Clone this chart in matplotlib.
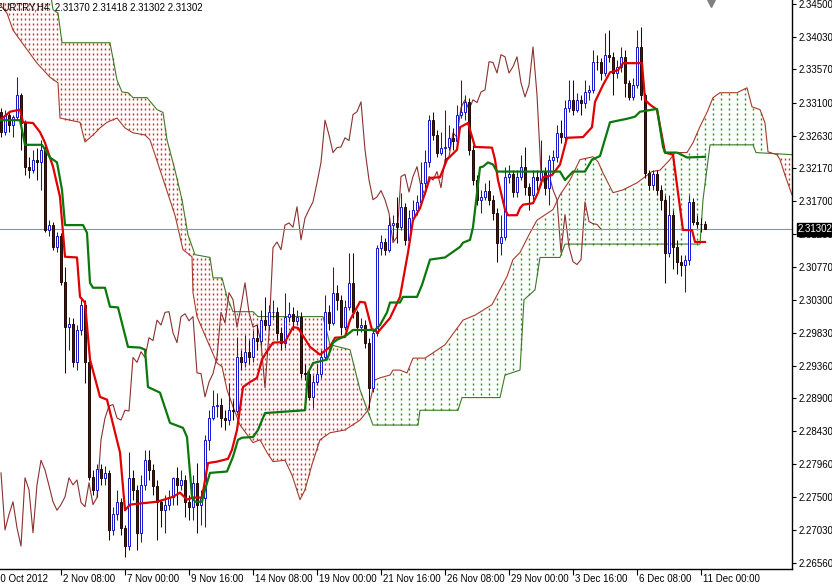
import numpy as np
import matplotlib

matplotlib.use("Agg")
import matplotlib.pyplot as plt

plt.rcParams["font.family"] = ["Liberation Sans", "DejaVu Sans"]

HEADER = "EURTRY,H4  2.31370 2.31418 2.31302 2.31302"
LAST_PRICE = 2.31302
FIRST_OPEN = 2.3296

# H4 candles, bar 0 = 30 Oct 2012 20:00
closes = [
    2.3268, 2.3293, 2.3278, 2.3289, 2.3321, 2.3281, 2.3218, 2.3214, 2.3229, 2.3225,
    2.3243, 2.3129, 2.3136, 2.3105, 2.3120, 2.3055, 2.2991, 2.2996, 2.2942, 2.2987,
    2.3023, 2.2942, 2.2778, 2.2760, 2.2789, 2.2777, 2.2784, 2.2703, 2.2725, 2.2743,
    2.2706, 2.2680, 2.2777, 2.2760, 2.2699, 2.2767, 2.2802, 2.2788, 2.2766, 2.2743,
    2.2731, 2.2739, 2.2750, 2.2777, 2.2767, 2.2774, 2.2742, 2.2736, 2.2770, 2.2739,
    2.2749, 2.2831, 2.2862, 2.2879, 2.2881, 2.2862, 2.2859, 2.2873, 2.2872, 2.2948,
    2.2941, 2.2956, 2.2948, 2.2976, 2.2972, 2.3001, 2.2994, 2.3012, 2.3013, 2.2983,
    2.2969, 2.3006, 2.3010, 2.3000, 2.3006, 2.2926, 2.2925, 2.2892, 2.2913, 2.2925,
    2.2949, 2.3012, 2.2997, 2.3040, 2.3030, 2.2991, 2.3020, 2.3054, 2.3012, 2.2991,
    2.2994, 2.2969, 2.2905, 2.2983, 2.3104, 2.3112, 2.3101, 2.3136, 2.3139, 2.3133,
    2.3162, 2.3115, 2.3146, 2.3158, 2.3169, 2.3196, 2.3225, 2.3285, 2.3264, 2.3239,
    2.3246, 2.3247, 2.3260, 2.3256, 2.3293, 2.3297, 2.3311, 2.3243, 2.3200, 2.3172,
    2.3176, 2.3185, 2.3172, 2.3153, 2.3111, 2.3119, 2.3205, 2.3208, 2.3183, 2.3205,
    2.3219, 2.3190, 2.3179, 2.3205, 2.3200, 2.3212, 2.3189, 2.3229, 2.3233, 2.3267,
    2.3261, 2.3303, 2.3314, 2.3300, 2.3314, 2.3310, 2.3325, 2.3328, 2.3368, 2.3367,
    2.3352, 2.3378, 2.3375, 2.3352, 2.3361, 2.3375, 2.3338, 2.3318, 2.3335, 2.3389,
    2.3321, 2.3210, 2.3193, 2.3208, 2.3186, 2.3172, 2.3097, 2.3151, 2.3105, 2.3084,
    2.3080, 2.3087, 2.3169, 2.3141, 2.3138, 2.3137, 2.31302,
]
highs = [
    2.3303, 2.3300, 2.3297, 2.3293, 2.3346, 2.3324, 2.3285, 2.3232, 2.3243, 2.3246,
    2.3257, 2.3249, 2.3143, 2.3140, 2.3126, 2.3125, 2.3077, 2.3006, 2.3004, 2.2994,
    2.3033, 2.3030, 2.2952, 2.2788, 2.2796, 2.2796, 2.2794, 2.2788, 2.2735, 2.2760,
    2.2749, 2.2710, 2.2813, 2.2788, 2.2767, 2.2781, 2.2817, 2.2817, 2.2796, 2.2774,
    2.2746, 2.2753, 2.2760, 2.2778, 2.2793, 2.2788, 2.2781, 2.2753, 2.2781, 2.2798,
    2.2760, 2.2838, 2.2873, 2.2902, 2.2898, 2.2891, 2.2873, 2.2912, 2.2888, 2.2977,
    2.2959, 2.2980, 2.2973, 2.2987, 2.2994, 2.3016, 2.3034, 2.3023, 2.3030, 2.3020,
    2.2991, 2.3040, 2.3027, 2.3019, 2.3016, 2.3013, 2.2938, 2.2930, 2.2923, 2.2938,
    2.2959, 2.3037, 2.3023, 2.3077, 2.3051, 2.3037, 2.3030, 2.3097, 2.3097, 2.3016,
    2.3004, 2.3001, 2.2976, 2.2990, 2.3108, 2.3122, 2.3118, 2.3148, 2.3150, 2.3176,
    2.3182, 2.3168, 2.3158, 2.3172, 2.3179, 2.3225, 2.3243, 2.3293, 2.3297, 2.3271,
    2.3268, 2.3300, 2.3278, 2.3274, 2.3307, 2.3342, 2.3321, 2.3317, 2.3250, 2.3207,
    2.3186, 2.3196, 2.3200, 2.3179, 2.3160, 2.3150, 2.3218, 2.3222, 2.3214, 2.3214,
    2.3236, 2.3247, 2.3196, 2.3214, 2.3214, 2.3257, 2.3218, 2.3236, 2.3243, 2.3278,
    2.3285, 2.3314, 2.3342, 2.3342, 2.3324, 2.3321, 2.3342, 2.3335, 2.3385, 2.3378,
    2.3374, 2.3409, 2.3413, 2.3382, 2.3371, 2.3389, 2.3385, 2.3342, 2.3345, 2.3413,
    2.3417, 2.3324, 2.3214, 2.3214, 2.3214, 2.3193, 2.3179, 2.3179, 2.3158, 2.3115,
    2.3094, 2.3094, 2.3179, 2.3175, 2.3150, 2.3146, 2.31418,
]
lows = [
    2.3261, 2.3264, 2.3268, 2.3261, 2.3285, 2.3243, 2.3207, 2.3203, 2.3210, 2.3200,
    2.3186, 2.3126, 2.3121, 2.3101, 2.3098, 2.3051, 2.2926, 2.2959, 2.2935, 2.2930,
    2.2980, 2.2912, 2.2774, 2.2753, 2.2750, 2.2767, 2.2767, 2.2689, 2.2696, 2.2717,
    2.2696, 2.2665, 2.2675, 2.2746, 2.2675, 2.2686, 2.2760, 2.2774, 2.2753, 2.2689,
    2.2707, 2.2699, 2.2731, 2.2739, 2.2739, 2.2760, 2.2722, 2.2717, 2.2717, 2.2699,
    2.2710, 2.2707, 2.2817, 2.2859, 2.2864, 2.2849, 2.2845, 2.2852, 2.2859, 2.2869,
    2.2930, 2.2934, 2.2938, 2.2942, 2.2959, 2.2966, 2.2987, 2.2987, 2.3004, 2.2973,
    2.2959, 2.2962, 2.2999, 2.2987, 2.2994, 2.2919, 2.2916, 2.2888, 2.2876, 2.2909,
    2.2919, 2.2945, 2.2987, 2.2994, 2.3016, 2.2980, 2.2987, 2.3016, 2.3004, 2.2980,
    2.2984, 2.2962, 2.2876, 2.2899, 2.2979, 2.3094, 2.3094, 2.3098, 2.3115, 2.3111,
    2.3129, 2.3108, 2.3111, 2.3143, 2.3150, 2.3165, 2.3189, 2.3218, 2.3257, 2.3232,
    2.3236, 2.3222, 2.3243, 2.3243, 2.3250, 2.3288, 2.3285, 2.3236, 2.3193, 2.3165,
    2.3153, 2.3172, 2.3165, 2.3143, 2.3083, 2.3094, 2.3115, 2.3196, 2.3176, 2.3176,
    2.3200, 2.3179, 2.3158, 2.3172, 2.3186, 2.3193, 2.3179, 2.3165, 2.3214, 2.3226,
    2.3253, 2.3257, 2.3297, 2.3293, 2.3297, 2.3293, 2.3303, 2.3314, 2.3324, 2.3356,
    2.3342, 2.3348, 2.3368, 2.3321, 2.3345, 2.3354, 2.3318, 2.3314, 2.3314, 2.3331,
    2.3314, 2.3203, 2.3186, 2.3186, 2.3179, 2.3158, 2.3054, 2.3090, 2.3073, 2.3066,
    2.3063, 2.3041, 2.3080, 2.3136, 2.3132, 2.3126, 2.31302,
]

# indicator lines as (bar, price) vertices
tenkan = [
    (-0.25, 2.3285), (2.25, 2.3297), (4.75, 2.3300), (5.5, 2.3282), (8.0, 2.3281),
    (9.75, 2.3268), (11.0, 2.3253), (13.0, 2.3219), (14.75, 2.3176), (15.5, 2.3125),
    (16.0, 2.3091), (19.0, 2.3090), (19.75, 2.3034), (21.0, 2.3026), (22.25, 2.2945),
    (24.75, 2.2892), (26.5, 2.2888), (27.75, 2.2859), (29.75, 2.2813), (31.0, 2.2731),
    (32.25, 2.2739), (37.25, 2.2742), (39.0, 2.2743), (43.0, 2.2750), (44.75, 2.2756),
    (46.5, 2.2746), (48.0, 2.2749), (50.25, 2.2749), (51.75, 2.2798), (54.0, 2.2800),
    (56.75, 2.2804), (57.75, 2.2817), (59.0, 2.2845), (60.5, 2.2906), (62.25, 2.2913),
    (64.0, 2.2919), (65.25, 2.2945), (66.75, 2.2959), (68.0, 2.2969), (71.0, 2.2970),
    (73.0, 2.2991), (74.25, 2.2990), (77.25, 2.2963), (79.75, 2.2952), (82.25, 2.2963),
    (83.5, 2.2976), (86.0, 2.2977), (87.25, 2.3001), (89.75, 2.3027), (91.0, 2.3026),
    (92.75, 2.2987), (94.25, 2.2984), (97.25, 2.3004), (99.75, 2.3034), (101.75, 2.3097),
    (103.0, 2.3143), (104.75, 2.3160), (107.25, 2.3203), (109.75, 2.3204), (111.5, 2.3229),
    (114.0, 2.3243), (114.75, 2.3275), (116.75, 2.3281), (118.5, 2.3247), (122.75, 2.3246),
    (123.5, 2.3229), (124.25, 2.3200), (126.0, 2.3158), (126.75, 2.3150), (129.0, 2.3150),
    (129.75, 2.3160), (130.5, 2.3165), (133.0, 2.3167), (134.25, 2.3182), (135.5, 2.3204),
    (137.75, 2.3207), (139.75, 2.3222), (141.5, 2.3260), (145.5, 2.3261), (147.75, 2.3275),
    (148.5, 2.3311), (150.5, 2.3335), (152.25, 2.3353), (154.25, 2.3356), (155.5, 2.3366),
    (160.25, 2.3366), (161.0, 2.3314), (162.25, 2.3307), (164.0, 2.3300), (166.0, 2.3239),
    (168.0, 2.3236), (169.25, 2.3182), (170.5, 2.3129), (172.75, 2.3129), (173.5, 2.3112),
    (176.0, 2.3112),
]
kijun = [
    (-0.25, 2.3285), (4.75, 2.3285), (6.0, 2.3250), (10.25, 2.3250), (12.25, 2.3232),
    (14.0, 2.3225), (15.25, 2.3186), (16.0, 2.3136), (20.5, 2.3136), (21.5, 2.3125),
    (22.25, 2.3054), (23.0, 2.3047), (26.0, 2.3047), (27.25, 2.3020), (29.25, 2.3019),
    (30.5, 2.2991), (31.75, 2.2963), (34.75, 2.2962), (36.0, 2.2959), (36.75, 2.2906),
    (39.75, 2.2898), (42.25, 2.2855), (45.5, 2.2848), (46.5, 2.2835), (47.75, 2.2750),
    (48.5, 2.2743), (50.25, 2.2743), (51.0, 2.2760), (52.25, 2.2784), (56.5, 2.2786),
    (58.0, 2.2807), (59.25, 2.2831), (60.25, 2.2834), (63.0, 2.2835), (64.25, 2.2845),
    (66.0, 2.2869), (76.0, 2.2873), (76.75, 2.2926), (78.0, 2.2940), (81.5, 2.2945),
    (83.0, 2.2969), (84.0, 2.2973), (86.5, 2.2980), (88.0, 2.2987), (93.5, 2.2987),
    (94.75, 2.2994), (96.5, 2.3012), (97.25, 2.3026), (99.75, 2.3026), (100.5, 2.3034),
    (104.0, 2.3034), (105.25, 2.3051), (107.25, 2.3087), (111.0, 2.3090), (114.75, 2.3105),
    (115.5, 2.3111), (117.25, 2.3115), (118.0, 2.3133), (119.75, 2.3218), (120.5, 2.3219),
    (121.75, 2.3225), (123.0, 2.3222), (124.0, 2.3212), (139.75, 2.3212), (141.0, 2.3200),
    (143.0, 2.3212), (146.0, 2.3212), (147.75, 2.3229), (149.75, 2.3234), (152.25, 2.3282),
    (156.5, 2.3287), (158.5, 2.3290), (159.75, 2.3297), (164.0, 2.3301), (165.5, 2.3247),
    (166.0, 2.3239), (169.0, 2.3239), (171.5, 2.3232), (176.0, 2.3233),
]
span_a = [
    (-0.25, 2.3449), (1.5, 2.3437), (3.0, 2.3413), (4.75, 2.3399), (9.0, 2.3366),
    (12.25, 2.3346), (14.25, 2.3338), (14.75, 2.3288), (19.75, 2.3282), (21.0, 2.3254),
    (23.0, 2.3264), (24.75, 2.3274), (26.5, 2.3282), (29.0, 2.3288), (31.0, 2.3274),
    (33.0, 2.3267), (36.0, 2.3264), (37.25, 2.3257), (38.5, 2.3236), (41.0, 2.3193),
    (43.5, 2.3150), (45.5, 2.3101), (47.75, 2.3091), (48.0, 2.3040), (49.0, 2.3006),
    (54.0, 2.2940), (55.25, 2.2935), (56.5, 2.2902), (58.0, 2.2878), (59.75, 2.2852),
    (63.0, 2.2827), (64.75, 2.2831), (66.5, 2.2813), (68.0, 2.2800), (71.0, 2.2802),
    (72.75, 2.2781), (74.75, 2.2746), (76.0, 2.2760), (77.75, 2.2796), (79.75, 2.2831),
    (82.25, 2.2841), (86.0, 2.2845), (89.75, 2.2859), (91.75, 2.2873), (93.5, 2.2916),
    (94.75, 2.2919), (97.25, 2.2923), (98.0, 2.2930), (99.75, 2.2930), (101.5, 2.2926),
    (103.0, 2.2947), (106.0, 2.2947), (111.0, 2.2966), (115.5, 2.3001), (118.5, 2.3008),
    (122.75, 2.3023), (126.5, 2.3063), (128.0, 2.3087), (129.75, 2.3097), (132.25, 2.3125),
    (134.0, 2.3143), (138.0, 2.3158), (139.75, 2.3179), (142.25, 2.3200), (144.75, 2.3229),
    (148.0, 2.3233), (149.25, 2.3226), (150.5, 2.3210), (153.0, 2.3182), (155.5, 2.3186),
    (159.0, 2.3196), (162.75, 2.3212), (164.75, 2.3214), (167.25, 2.3229), (168.5, 2.3239),
    (171.5, 2.3239), (173.0, 2.3253), (174.75, 2.3276), (176.5, 2.3296), (178.0, 2.3317),
    (179.75, 2.3324), (184.0, 2.3324), (186.5, 2.3331), (187.75, 2.3304), (189.75, 2.3300),
    (191.0, 2.3281), (191.75, 2.3240), (194.0, 2.3236), (194.75, 2.3229), (196.0, 2.3207),
    (197.75, 2.3179),
]
span_b = [
    (-0.25, 2.3484), (12.25, 2.3470), (13.0, 2.3442), (14.25, 2.3437), (15.25, 2.3395),
    (27.25, 2.3395), (29.0, 2.3342), (30.25, 2.3325), (31.75, 2.3324), (33.0, 2.3317),
    (36.5, 2.3317), (39.0, 2.3300), (40.5, 2.3296), (41.5, 2.3257), (43.5, 2.3214),
    (45.25, 2.3172), (46.75, 2.3122), (48.5, 2.3094), (52.25, 2.3090), (53.0, 2.3061),
    (55.25, 2.3061), (56.5, 2.3034), (58.0, 2.3013), (63.0, 2.3013), (64.25, 2.3006),
    (80.5, 2.3006), (82.25, 2.2966), (87.25, 2.2959), (89.75, 2.2902), (91.75, 2.2871),
    (93.0, 2.2852), (104.25, 2.2852), (104.75, 2.2873), (114.25, 2.2873), (115.25, 2.2891),
    (124.75, 2.2891), (126.0, 2.2923), (129.75, 2.2930), (130.75, 2.3030), (133.5, 2.3044),
    (134.75, 2.3090), (139.75, 2.3090), (141.0, 2.3109), (174.75, 2.3109), (175.5, 2.3172),
    (177.25, 2.3250), (188.0, 2.3250), (188.75, 2.3239), (197.75, 2.3236),
]
CHIKOU_SHIFT = 26

y_ticks = [
    2.34500, 2.34030, 2.33570, 2.33100, 2.32630, 2.32170, 2.31700, 2.31230, 2.30770,
    2.30300, 2.29830, 2.29360, 2.28900, 2.28430, 2.27960, 2.27500, 2.27030, 2.26560,
]
x_tick_bars = [15, 31, 47, 63, 79, 95, 111, 127, 143, 159, 175]
x_tick_labels = [
    "2 Nov 08:00", "7 Nov 00:00", "9 Nov 16:00", "14 Nov 08:00", "19 Nov 00:00",
    "21 Nov 16:00", "26 Nov 08:00", "29 Nov 00:00", "3 Dec 16:00", "6 Dec 08:00",
    "11 Dec 00:00",
]
FIRST_DATE_LABEL = "30 Oct 2012"

BULL = "#1414c8"
BEAR_FILL = "#4e1410"
BEAR_EDGE = "#1e0806"
TENKAN_C = "#e00000"
KIJUN_C = "#0a780a"
SPAN_A_C = "#a63a2a"
SPAN_B_C = "#3c7a24"
CHIKOU_C = "#8c3030"
HATCH_RED = "#ff1a1a"
HATCH_GREEN = "#189018"

Y_MIN, Y_MAX = 2.26475, 2.34557
fig = plt.figure(figsize=(8.32, 5.86), dpi=100)
ax = fig.add_axes([0, 17 / 586, 792 / 832, 569 / 586])
ax.set_xlim(-0.25, 197.75)
ax.set_ylim(Y_MIN, Y_MAX)

# cloud hatch: short vertical ticks on a fixed grid between the two spans
a_bar, a_val = zip(*span_a)
b_bar, b_val = zip(*span_b)
grid = np.arange(0, 198)
a_on_grid = np.interp(grid, a_bar, a_val)
b_on_grid = np.interp(grid, b_bar, b_val)
row_step = (Y_MAX - Y_MIN) / 569 * 5
rows = np.arange(Y_MIN, Y_MAX, row_step)
red_x, red_y, green_x, green_y = [], [], [], []
for i, a, b in zip(grid, a_on_grid, b_on_grid):
    lo, hi = min(a, b), max(a, b)
    inside = rows[(rows > lo) & (rows < hi)]
    if b > a:
        red_x.extend([i] * len(inside))
        red_y.extend(inside)
    elif i % 2 == 0:
        green_x.extend([i] * len(inside))
        green_y.extend(inside)
ax.plot(red_x, red_y, linestyle="none", marker="|", markersize=1.9, markeredgewidth=1.0,
        color=HATCH_RED, zorder=1)
ax.plot(green_x, green_y, linestyle="none", marker="|", markersize=1.9, markeredgewidth=1.0,
        color=HATCH_GREEN, zorder=1)

ax.plot(a_bar, a_val, color=SPAN_A_C, lw=0.8, zorder=2)
ax.plot(b_bar, b_val, color=SPAN_B_C, lw=0.8, zorder=2)

closes_arr = np.array(closes)
bars = np.arange(len(closes_arr))
ax.plot(bars[CHIKOU_SHIFT:] - CHIKOU_SHIFT, closes_arr[CHIKOU_SHIFT:], color=CHIKOU_C, lw=0.8, zorder=2)

ax.axhline(LAST_PRICE, color="#8395a7", lw=0.8, zorder=2.5)

# candles
opens = np.concatenate([[FIRST_OPEN], closes_arr[:-1]])
highs_arr = np.array(highs)
lows_arr = np.array(lows)
up = closes_arr >= opens
dn = ~up
ax.vlines(bars[up], lows_arr[up], highs_arr[up], colors=BULL, lw=0.75, zorder=3)
ax.vlines(bars[dn], lows_arr[dn], highs_arr[dn], colors=BEAR_EDGE, lw=0.75, zorder=3)
ax.bar(bars[up], closes_arr[up] - opens[up], bottom=opens[up], width=0.6,
       facecolor="white", edgecolor=BULL, linewidth=0.7, zorder=3.5)
ax.bar(bars[dn], closes_arr[dn] - opens[dn], bottom=opens[dn], width=0.6,
       facecolor=BEAR_FILL, edgecolor=BEAR_EDGE, linewidth=0.7, zorder=3.5)

t_bar, t_val = zip(*tenkan)
k_bar, k_val = zip(*kijun)
ax.plot(t_bar, t_val, color=TENKAN_C, lw=1.6, zorder=4, solid_joinstyle="round")
ax.plot(k_bar, k_val, color=KIJUN_C, lw=1.6, zorder=5, solid_joinstyle="round")

# axes styling like the terminal
for side in ("top", "left"):
    ax.spines[side].set_visible(False)
for side in ("right", "bottom"):
    ax.spines[side].set_color("black")
    ax.spines[side].set_linewidth(1.0)
ax.yaxis.tick_right()
ax.set_yticks(y_ticks)
ax.set_yticklabels([f"{v:.5f}" for v in y_ticks])
ax.tick_params(axis="y", direction="out", length=3, width=0.8, pad=2, labelsize=7, colors="black")
ax.set_xticks(x_tick_bars)
ax.set_xticklabels([""] * len(x_tick_bars))
ax.tick_params(axis="x", direction="out", length=4, width=0.8)
for bar_pos, label in zip(x_tick_bars, x_tick_labels):
    ax.annotate(label, xy=(bar_pos, 0), xycoords=("data", "axes fraction"),
                xytext=(2, -10), textcoords="offset pixels", ha="left", va="center",
                fontsize=7, annotation_clip=False)
ax.annotate(FIRST_DATE_LABEL, xy=(0, 0), xycoords="axes fraction", xytext=(-5, -10),
            textcoords="offset pixels", ha="left", va="center", fontsize=7, annotation_clip=False)

ax.annotate(HEADER, xy=(0, 1), xycoords="axes fraction", xytext=(-4, -7),
            textcoords="offset pixels", ha="left", va="center", fontsize=7, zorder=10)

ax.annotate(f"{LAST_PRICE:.5f}", xy=(1, LAST_PRICE), xycoords=("axes fraction", "data"),
            xytext=(6, 0), textcoords="offset pixels", ha="left", va="center",
            fontsize=7, color="white", annotation_clip=False, zorder=20,
            bbox=dict(boxstyle="square,pad=0.15", facecolor="black", edgecolor="black"))

ax.plot([177.5], [2.3452], marker="v", markersize=6, color="#808080", clip_on=False, zorder=6)

fig.savefig("out.png", dpi=100)
